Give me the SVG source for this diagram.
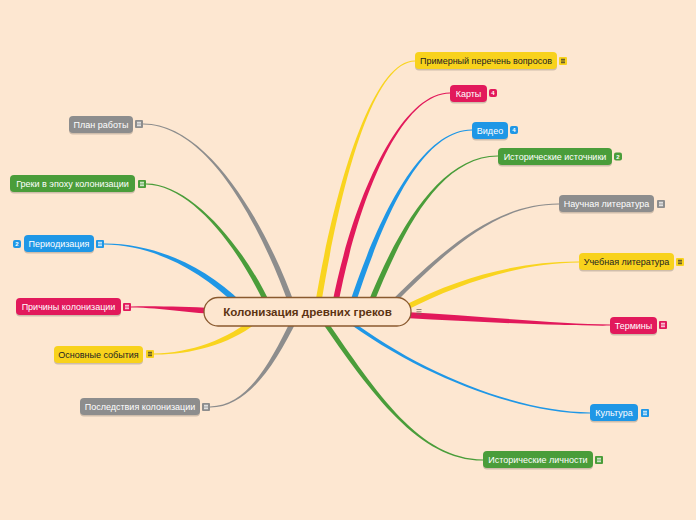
<svg xmlns="http://www.w3.org/2000/svg" width="696" height="520" viewBox="0 0 696 520">
<style>
.bg{fill:#fde7d1}
.shadow{fill:#000;opacity:0.18}
.t{font-family:"Liberation Sans",Arial,sans-serif;font-size:9px;text-anchor:middle;fill:#fff}
.dark{fill:#222}
.yellow{fill:#f8d21c;color:#f8d21c}
.pink{fill:#e2195b;color:#e2195b}
.blue{fill:#1f97e6;color:#1f97e6}
.green{fill:#4a9d3a;color:#4a9d3a}
.gray{fill:#8d8d8d;color:#8d8d8d}
.cy{fill:#f9d41f}
.cp{fill:#e2195b}
.cb{fill:#1f97e6}
.cg{fill:#4a9d3a}
.cgr{fill:#8d8d8d}
.badge{font-family:"Liberation Sans",Arial,sans-serif;font-size:6px;font-weight:bold;text-anchor:middle;fill:#fff}
</style>
<defs>
<symbol id="note" viewBox="0 0 8 8" overflow="visible">
<rect x="0" y="0" width="8" height="8" rx="1" fill="currentColor"/>
<path d="M2 2.3H6M2 4H6M2 5.7H6" stroke="#fff" stroke-width="0.9" fill="none"/>
</symbol>
<symbol id="noteDark" viewBox="0 0 8 8" overflow="visible">
<rect x="0" y="0" width="8" height="8" rx="1" fill="#f8d21c"/>
<path d="M2 2.3H6M2 4H6M2 5.7H6" stroke="#333" stroke-width="0.9" fill="none"/>
</symbol>
</defs>
<rect class="bg" x="0" y="0" width="696" height="520"/>

<g id="connectors">
<path class="cy" d="M315,305 C332,200 370,60 415,60.4 L415,61.6 C370,62 338,200 321,305 Z"/>
<path class="cp" d="M332,305 C352,200 400,92 450,92.4 L450,93.6 C400,94 358,200 338,305 Z"/>
<path class="cb" d="M349,305 C377,220 420,129 472,129.4 L472,130.6 C420,131 383,220 355,305 Z"/>
<path class="cg" d="M367,305 C397,230 440,155 498,155.4 L498,156.6 C440,157 403,230 373,305 Z"/>
<path class="cgr" d="M387,305 C442,250 495,203 559,203.4 L559,204.6 C495,205 448,250 393,305 Z"/>
<path class="cy" d="M405,305 C460,277 520,261 579,261.4 L579,262.6 C520,263 460,283 405,311 Z"/>
<path class="cp" d="M405,312 C480,316 560,324 610,324.4 L610,325.6 C560,326 480,322 405,318 Z"/>
<path class="cb" d="M348,318 C423,375 520,412 590,412.4 L590,413.6 C520,414 417,375 342,318 Z"/>
<path class="cg" d="M325,318 C378,395 420,459 483,459.4 L483,460.6 C420,461 372,395 319,318 Z"/>
<path class="cgr" d="M295,305 C268,230 210,123 143,123.4 L143,124.6 C210,125 262,230 289,305 Z"/>
<path class="cg" d="M271,305 C243,245 190,183 146,183.4 L146,184.6 C190,185 237,245 265,305 Z"/>
<path class="cb" d="M242.1,302.9 C202.1,262.9 150,243 104,243.4 L104,244.6 C150,245 197.9,267.1 237.9,307.1 Z"/>
<path class="cp" d="M215,308 C185,307 165,306 131,306.4 L131,307.6 C165,308 185,313 215,314 Z"/>
<path class="cy" d="M256,315.7 C228,339.7 190,353 154,353.4 L154,354.6 C190,355 232,344.3 260,320.3 Z"/>
<path class="cgr" d="M292,318 C267,370 245,406 210,406.4 L210,407.6 C245,408 273,370 298,318 Z"/>
</g>

<g id="root">
<rect x="204" y="297.5" width="207" height="28.5" rx="14" fill="#fde6cf" stroke="#8a5a2f" stroke-width="1.3"/>
<text x="307.5" y="315.7" style="font-family:'Liberation Sans',Arial,sans-serif;font-size:11.6px;font-weight:bold;text-anchor:middle;fill:#5c3312">Колонизация древних греков</text>
<path d="M416.5,309.5H421.5M416.5,311.8H421.5M416.5,314.1H421.5" stroke="#7a6a5a" stroke-width="0.8" fill="none"/>
</g>

<g id="n-primerny">
<rect class="shadow" x="415" y="53.5" width="142" height="17" rx="4"/>
<rect class="yellow" x="415" y="52" width="142" height="17" rx="4"/>
<text class="t dark" x="486" y="64">Примерный перечень вопросов</text>
<use href="#noteDark" x="559" y="57" width="8" height="8"/>
</g>

<g id="n-karty">
<rect class="shadow" x="450" y="86.5" width="37" height="17" rx="4"/>
<rect class="pink" x="450" y="85" width="37" height="17" rx="4"/>
<text class="t" x="468.5" y="97">Карты</text>
<rect class="pink" x="489" y="89" width="8" height="8" rx="2"/>
<text class="badge" x="493" y="95.2">4</text>
</g>

<g id="n-video">
<rect class="shadow" x="472" y="123.5" width="36" height="17" rx="4"/>
<rect class="blue" x="472" y="122" width="36" height="17" rx="4"/>
<text class="t" x="490" y="134">Видео</text>
<rect class="blue" x="510" y="126" width="8" height="8" rx="2"/>
<text class="badge" x="514" y="132.2">4</text>
</g>

<g id="n-ist-istochniki">
<rect class="shadow" x="498" y="149.5" width="114" height="17" rx="4"/>
<rect class="green" x="498" y="148" width="114" height="17" rx="4"/>
<text class="t" x="555" y="160">Исторические источники</text>
<rect class="green" x="614" y="152.5" width="8" height="8" rx="2"/>
<text class="badge" x="618" y="158.7">2</text>
</g>

<g id="n-nauchnaya">
<rect class="shadow" x="559" y="196.5" width="95" height="17" rx="4"/>
<rect class="gray" x="559" y="195" width="95" height="17" rx="4"/>
<text class="t" x="606.5" y="207">Научная литература</text>
<use href="#note" class="gray" x="657" y="200" width="8" height="8"/>
</g>

<g id="n-uchebnaya">
<rect class="shadow" x="579" y="254.5" width="95" height="17" rx="4"/>
<rect class="yellow" x="579" y="253" width="95" height="17" rx="4"/>
<text class="t dark" x="626.5" y="265">Учебная литература</text>
<use href="#noteDark" x="676" y="258" width="8" height="8"/>
</g>

<g id="n-terminy">
<rect class="shadow" x="610" y="318.5" width="47" height="17" rx="4"/>
<rect class="pink" x="610" y="317" width="47" height="17" rx="4"/>
<text class="t" x="633.5" y="329">Термины</text>
<use href="#note" class="pink" x="659" y="321" width="8" height="8"/>
</g>

<g id="n-kultura">
<rect class="shadow" x="590" y="405.5" width="48" height="17" rx="4"/>
<rect class="blue" x="590" y="404" width="48" height="17" rx="4"/>
<text class="t" x="614" y="416">Культура</text>
<use href="#note" class="blue" x="641" y="409" width="8" height="8"/>
</g>

<g id="n-ist-lichnosti">
<rect class="shadow" x="483" y="452.5" width="110" height="17" rx="4"/>
<rect class="green" x="483" y="451" width="110" height="17" rx="4"/>
<text class="t" x="538" y="463">Исторические личности</text>
<use href="#note" class="green" x="595" y="456" width="8" height="8"/>
</g>

<g id="n-plan">
<rect class="shadow" x="69" y="117.5" width="64" height="17" rx="4"/>
<rect class="gray" x="69" y="116" width="64" height="17" rx="4"/>
<text class="t" x="101" y="128">План работы</text>
<use href="#note" class="gray" x="135" y="120" width="8" height="8"/>
</g>

<g id="n-greki">
<rect class="shadow" x="10" y="176.5" width="125" height="17" rx="4"/>
<rect class="green" x="10" y="175" width="125" height="17" rx="4"/>
<text class="t" x="72.5" y="187">Греки в эпоху колонизации</text>
<use href="#note" class="green" x="138" y="180" width="8" height="8"/>
</g>

<g id="n-periodizaciya">
<rect class="shadow" x="24" y="236.5" width="70" height="17" rx="4"/>
<rect class="blue" x="24" y="235" width="70" height="17" rx="4"/>
<text class="t" x="59" y="247">Периодизация</text>
<use href="#note" class="blue" x="96" y="240" width="8" height="8"/>
<rect class="blue" x="13" y="240" width="8" height="8" rx="2"/>
<text class="badge" x="17" y="246.2">2</text>
</g>

<g id="n-prichiny">
<rect class="shadow" x="16" y="299.5" width="105" height="17" rx="4"/>
<rect class="pink" x="16" y="298" width="105" height="17" rx="4"/>
<text class="t" x="68.5" y="310">Причины колонизации</text>
<use href="#note" class="pink" x="123" y="303" width="8" height="8"/>
</g>

<g id="n-osnovnye">
<rect class="shadow" x="54" y="347.5" width="89" height="17" rx="4"/>
<rect class="yellow" x="54" y="346" width="89" height="17" rx="4"/>
<text class="t dark" x="98.5" y="358">Основные события</text>
<use href="#noteDark" x="146" y="350" width="8" height="8"/>
</g>

<g id="n-posledstviya">
<rect class="shadow" x="80" y="399.5" width="120" height="17" rx="4"/>
<rect class="gray" x="80" y="398" width="120" height="17" rx="4"/>
<text class="t" x="140" y="410">Последствия колонизации</text>
<use href="#note" class="gray" x="202" y="403" width="8" height="8"/>
</g>
</svg>
